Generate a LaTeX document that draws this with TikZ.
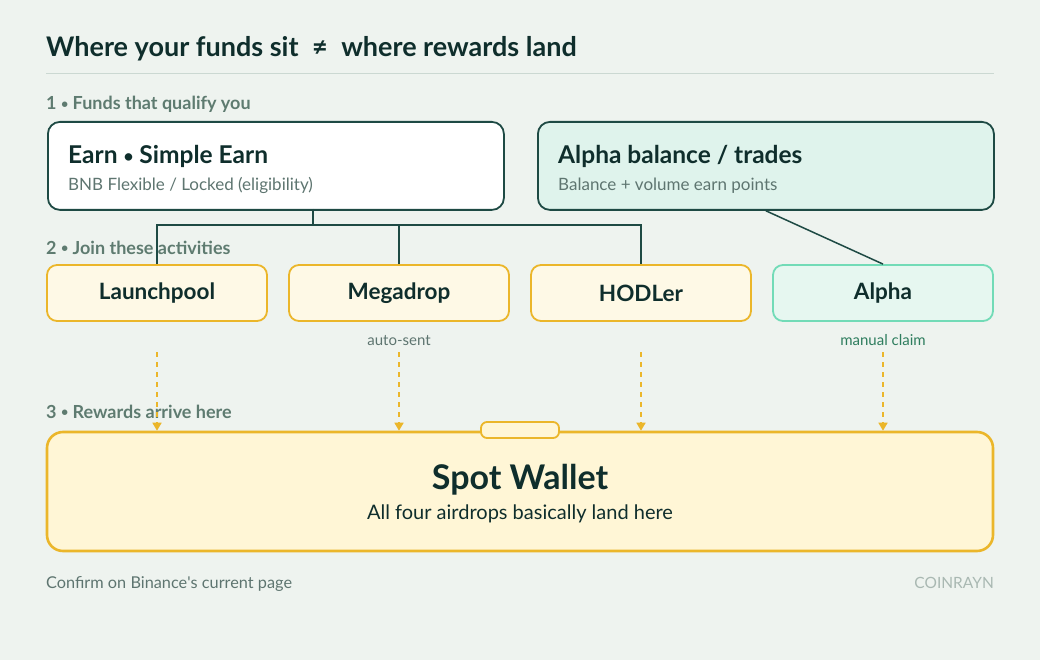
\documentclass[tikz,border=0pt]{standalone}
\usepackage{fontspec}
\setmainfont{Lato}
\usetikzlibrary{arrows.meta,calc}
\definecolor{bg}{HTML}{EEF3EF}
\definecolor{ink}{HTML}{0F2E2C}
\definecolor{sect}{HTML}{5E7B70}
\definecolor{sub}{HTML}{5E7570}
\definecolor{rule}{HTML}{CBD8D2}
\definecolor{darkline}{HTML}{1E4A44}
\definecolor{mintfill}{HTML}{DFF3EC}
\definecolor{cream}{HTML}{FEF9E6}
\definecolor{gold}{HTML}{EBB62A}
\definecolor{mintline}{HTML}{72DBB7}
\definecolor{mintlight}{HTML}{E6F7F0}
\definecolor{walletfill}{HTML}{FFF6D6}
\definecolor{claim}{HTML}{2E7D5E}
\definecolor{brand}{HTML}{A9B8B2}
\newcommand{\bul}{\raisebox{0.08em}{\scalebox{0.7}{•}}}
\tikzset{
  topbox/.style={draw=darkline, line width=1.8pt, rounded corners=12pt, anchor=north west, minimum width=456pt, minimum height=88pt, inner sep=0pt},
  actbox/.style={draw=gold, fill=cream, line width=1.8pt, rounded corners=10pt, minimum width=220pt, minimum height=56pt, text=ink, font=\fontsize{22.5}{24}\selectfont\bfseries, inner sep=0pt},
  secttext/.style={anchor=base west, text=sect, font=\fontsize{18}{20}\selectfont\bfseries, inner sep=0pt},
  boxtitle/.style={anchor=base west, text=ink, font=\fontsize{24.5}{28}\selectfont\bfseries, inner sep=0pt},
  boxsub/.style={anchor=base west, text=sub, font=\fontsize{17}{19}\selectfont, inner sep=0pt},
  conn/.style={draw=darkline, line width=1.5pt},
  flow/.style={draw=gold, line width=1.6pt, dash pattern=on 5pt off 5pt, -{Triangle[width=9pt,length=8pt]}},
  smalllab/.style={font=\fontsize{15}{17}\selectfont, inner sep=0pt, anchor=base},
}
\begin{document}
\begin{tikzpicture}[x=1pt,y=-1pt]
\fill[bg] (0,0) rectangle (1040,660);
\useasboundingbox (0,0) rectangle (1040,660);

% title
\node[anchor=base west, text=ink, font=\fontsize{27}{30}\selectfont\bfseries, inner sep=0pt] (title) at (46,57) {Where your funds sit\hspace{0.5em}≠\hspace{0.5em}where rewards land};
\draw[rule, line width=1pt] (46,74) -- (994,74);

% section labels
\node[secttext] (s1) at (46,110) {1 \bul{} Funds that qualify you};
\node[secttext] (s2) at (46,254) {2 \bul{} Join these activities};
\node[secttext] (s3) at (46,418) {3 \bul{} Rewards arrive here};

% top boxes
\node[topbox, fill=white] (earn) at (47,121) {};
\node[boxtitle] (earnT) at (68,164) {Earn \bul{} Simple Earn};
\node[boxsub] (earnS) at (68,191) {BNB Flexible / Locked (eligibility)};

\node[topbox, fill=mintfill] (alphabal) at (537,121) {};
\node[boxtitle] (alphaT) at (558,164) {Alpha balance / trades};
\node[boxsub] (alphaS) at (558,191) {Balance + volume earn points};

% activity boxes
\node[actbox] (launch) at (157,293) {\raisebox{-1pt}{Launchpool}};
\node[actbox] (mega) at (399,293) {\raisebox{-1pt}{Megadrop}};
\node[actbox] (hodler) at (641,293) {\raisebox{-1pt}{HODLer}};
\node[actbox, draw=mintline, fill=mintlight] (alpha) at (883,293) {\raisebox{-1pt}{Alpha}};

% connectors from funds
\coordinate (bus) at (0,225);
\coordinate (earnout) at (313,209);
\draw[conn] (earnout) -- (earnout |- bus);
\draw[conn] (launch.north) -- (launch.north |- bus) -- (hodler.north |- bus) -- (hodler.north);
\draw[conn] (mega.north) -- (mega.north |- bus);
\draw[conn] (alphabal.south) -- (alpha.north);

% small labels
\node[smalllab, text=sub] (autosent) at (399,345) {auto-sent};
\node[smalllab, text=claim] (manual) at (883,345) {manual claim};

% wallet
\node[draw=gold, fill=walletfill, line width=2.6pt, rounded corners=16pt, minimum width=946pt, minimum height=119pt, inner sep=0pt] (wallet) at (520,491.5) {};
\node[draw=gold, fill=walletfill, line width=1.8pt, rounded corners=6pt, minimum width=78pt, minimum height=16pt, inner sep=0pt] (tab) at (520,430) {};
\node[anchor=base, text=ink, font=\fontsize{34}{38}\selectfont\bfseries, inner sep=0pt] (walletT) at (520,489) {Spot Wallet};
\node[anchor=base, text=ink, font=\fontsize{20}{22}\selectfont, inner sep=0pt] (walletS) at (520,519) {All four airdrops basically land here};

% reward flows
\coordinate (f1) at (157,352);
\coordinate (f2) at (399,352);
\coordinate (f3) at (641,352);
\coordinate (f4) at (883,352);
\draw[flow] (f1) -- (f1 |- wallet.north);
\draw[flow] (f2) -- (f2 |- wallet.north);
\draw[flow] (f3) -- (f3 |- wallet.north);
\draw[flow] (f4) -- (f4 |- wallet.north);

% footer
\node[anchor=base west, text=sub, font=\fontsize{16.3}{18}\selectfont, inner sep=0pt] (foot) at (46,588) {Confirm on Binance\textquotesingle s current page};
\node[anchor=base east, text=brand, font=\fontsize{15.5}{17}\selectfont, inner sep=0pt] (brandname) at (994,588) {COINRAYN};
\end{tikzpicture}
\end{document}
